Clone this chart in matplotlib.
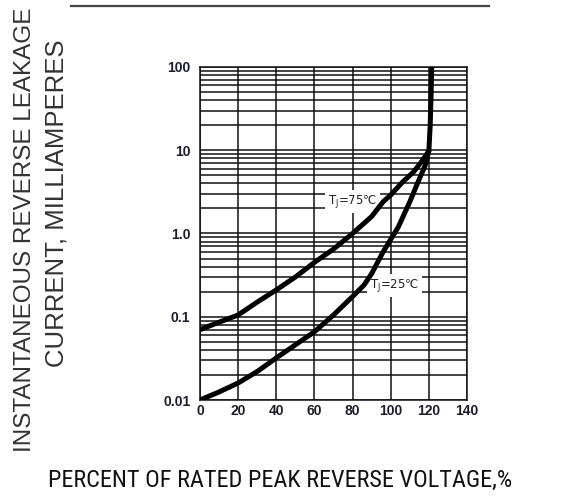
import matplotlib
matplotlib.use("Agg")
import matplotlib.pyplot as plt
from matplotlib.lines import Line2D
from matplotlib.ticker import LogLocator, FixedLocator, NullFormatter

# ---- data ----
x_75 = [0, 10, 20, 30, 40, 50, 60, 70, 80, 90, 96, 100, 106, 112, 116, 120, 120.7, 121.2, 121.5]
y_75 = [0.07, 0.086, 0.105, 0.15, 0.21, 0.30, 0.45, 0.65, 1.0, 1.6, 2.4, 2.9, 4.1, 5.5, 7.2, 9.8, 20, 50, 100]

x_25 = [0, 10, 20, 30, 40, 50, 60, 70, 80, 86, 90, 96, 100, 104, 110, 114, 118, 120]
y_25 = [0.01, 0.0125, 0.016, 0.022, 0.032, 0.046, 0.066, 0.105, 0.175, 0.24, 0.33, 0.6, 0.85, 1.2, 2.4, 4.0, 6.5, 9.8]

x_ticks = [0, 20, 40, 60, 80, 100, 120, 140]
y_ticks = [0.01, 0.1, 1.0, 10, 100]
y_tick_labels = ["0.01", "0.1", "1.0", "10", "100"]

label_75 = r"T$_\mathregular{J}$=75℃"
label_25 = r"T$_\mathregular{J}$=25℃"

title_text = "FIG.4-TYPICAL REVERSE CHARACTERISTICS"
ylabel_1 = "INSTANTANEOUS REVERSE LEAKAGE"
ylabel_2 = "CURRENT, MILLIAMPERES"
xlabel = "PERCENT OF RATED PEAK REVERSE VOLTAGE,%"

# ---- figure ----
W, H = 574, 498
fig = plt.figure(figsize=(W / 100, H / 100), dpi=100)
ax = fig.add_axes([200 / W, 1 - 400 / H, 267 / W, 333 / H])

ax.set_yscale("log")
ax.set_xlim(0, 140)
ax.set_ylim(0.01, 100)

ax.xaxis.set_major_locator(FixedLocator(x_ticks))
ax.yaxis.set_major_locator(FixedLocator(y_ticks))
ax.yaxis.set_minor_locator(LogLocator(base=10, subs=range(2, 10)))
ax.yaxis.set_minor_formatter(NullFormatter())
ax.set_yticklabels(y_tick_labels)

tick_color = "#1c1c2c"
ax.tick_params(which="both", length=0)
ax.tick_params(axis="y", pad=7, labelsize=10, labelcolor=tick_color)
ax.tick_params(axis="x", pad=3, labelsize=10, labelcolor=tick_color)
for lab in ax.get_xticklabels() + ax.get_yticklabels():
    lab.set_fontweight("bold")
    lab.set_family(["Liberation Sans", "DejaVu Sans"])

ax.grid(True, which="major", axis="both", color="#111111", lw=1.1)
ax.grid(True, which="minor", axis="y", color="#111111", lw=1.1)
for sp in ax.spines.values():
    sp.set_color("#111111")
    sp.set_linewidth(1.1)

ax.plot(x_75, y_75, color="black", lw=3.6, solid_capstyle="round", solid_joinstyle="round", zorder=5)
ax.plot(x_25, y_25, color="black", lw=3.6, solid_capstyle="round", solid_joinstyle="round", zorder=5)

bbox = dict(boxstyle="square,pad=0.25", facecolor="white", edgecolor="none")
ax.text(93, 2.4, label_75, fontsize=8.5, ha="right", va="center", color="#222222",
        family=["DejaVu Sans"], bbox=bbox, zorder=4)
ax.text(89, 0.24, label_25, fontsize=8.5, ha="left", va="center", color="#222222",
        family=["DejaVu Sans"], bbox=bbox, zorder=4)

# axis titles
fig.text(25 / W, 1 - 230 / H, ylabel_1, rotation=90, ha="center", va="center",
         fontsize=17.5, color="#333333", family=["Liberation Sans", "DejaVu Sans"])
fig.text(57 / W, 1 - 203 / H, ylabel_2, rotation=90, ha="center", va="center",
         fontsize=18.5, color="#333333", family=["Liberation Sans", "DejaVu Sans"])
fig.text(280 / W, 1 - 480 / H, xlabel, ha="center", va="center",
         fontsize=17.5, color="#111111",
         family=["Roboto Condensed", "Liberation Sans Narrow", "Liberation Sans", "DejaVu Sans"])

# cropped title with underline at the very top
fig.text(280 / W, 1 - 3 / H, title_text, ha="center", va="bottom", fontsize=13,
         fontweight="bold", color="#444444", family=["Liberation Sans", "DejaVu Sans"])
fig.add_artist(Line2D([71 / W, 489 / W], [1 - 6 / H, 1 - 6 / H], color="#444444", lw=1.6))

fig.savefig("out.png", dpi=100)
